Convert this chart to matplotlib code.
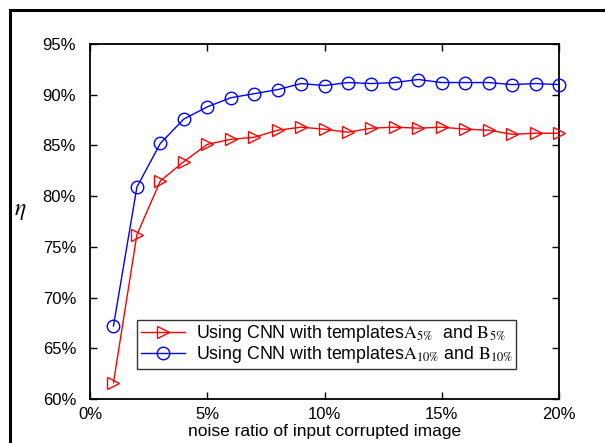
import matplotlib
matplotlib.use("Agg")
import matplotlib.pyplot as plt
from matplotlib.patches import Rectangle
from matplotlib.ticker import FuncFormatter

plt.rcParams['font.family'] = ['Liberation Sans', 'DejaVu Sans']
plt.rcParams['mathtext.fontset'] = 'stix'

noise = [1, 2, 3, 4, 5, 6, 7, 8, 9, 10, 11, 12, 13, 14, 15, 16, 17, 18, 19, 20]
eta_5 = [61.6, 76.2, 81.5, 83.4, 85.1, 85.6, 85.8, 86.5, 86.8, 86.6, 86.3, 86.7,
         86.8, 86.7, 86.8, 86.6, 86.5, 86.1, 86.2, 86.2]
eta_10 = [67.2, 80.9, 85.2, 87.6, 88.8, 89.7, 90.1, 90.5, 91.1, 90.9, 91.2, 91.1,
          91.2, 91.5, 91.2, 91.2, 91.2, 91.0, 91.1, 91.0]
labels = [r'Using CNN with templates$\mathrm{A}_{5\%}$  and $\mathrm{B}_{5\%}$',
          r'Using CNN with templates$\mathrm{A}_{10\%}$ and $\mathrm{B}_{10\%}$']
x_ticks = [0, 5, 10, 15, 20]
y_ticks = [60, 65, 70, 75, 80, 85, 90, 95]

fig = plt.figure(figsize=(6.05, 4.43), dpi=100)
fig.patches.append(Rectangle((10/605, -0.1), 1.2, (443-10)/443 + 0.1, transform=fig.transFigure,
                             fill=False, edgecolor='black', linewidth=2.2, zorder=0))
ax = fig.add_axes([90/605, (443-399)/443, 469/605, 355/443])

ax.plot(noise, eta_5, color='red', marker='>', markersize=9, markerfacecolor='none',
        markeredgecolor='red', linewidth=1, label=labels[0], clip_on=False, zorder=3)
ax.plot(noise, eta_10, color='blue', marker='o', markersize=9, markerfacecolor='none',
        markeredgecolor='blue', linewidth=1, label=labels[1], clip_on=False, zorder=3)

ax.set_xlim(0, 20)
ax.set_ylim(60, 95)
ax.set_xticks(x_ticks)
ax.set_yticks(y_ticks)
ax.xaxis.set_major_formatter(FuncFormatter(lambda v, p: f'{v:.0f}%'))
ax.yaxis.set_major_formatter(FuncFormatter(lambda v, p: f'{v:.0f}%'))
ax.tick_params(direction='in', top=True, right=True, length=5, width=1, labelsize=12)
ax.tick_params(axis='y', pad=10)
ax.tick_params(axis='x', pad=6)
for s in ax.spines.values():
    s.set_linewidth(1.3)

ax.set_xlabel('noise ratio of input corrupted image', fontsize=12.5, labelpad=1)
ax.set_ylabel(r'$\eta$', fontsize=17, rotation=0, labelpad=16)

leg = ax.legend(loc='lower left', bbox_to_anchor=(47/469, 30/355), fontsize=12.8,
                frameon=True, fancybox=False, edgecolor='black', borderpad=0.2,
                labelspacing=0.0, handlelength=2.5, handletextpad=0.6, borderaxespad=0)
leg.get_frame().set_linewidth(1.0)

fig.savefig('out.png', dpi=100)
